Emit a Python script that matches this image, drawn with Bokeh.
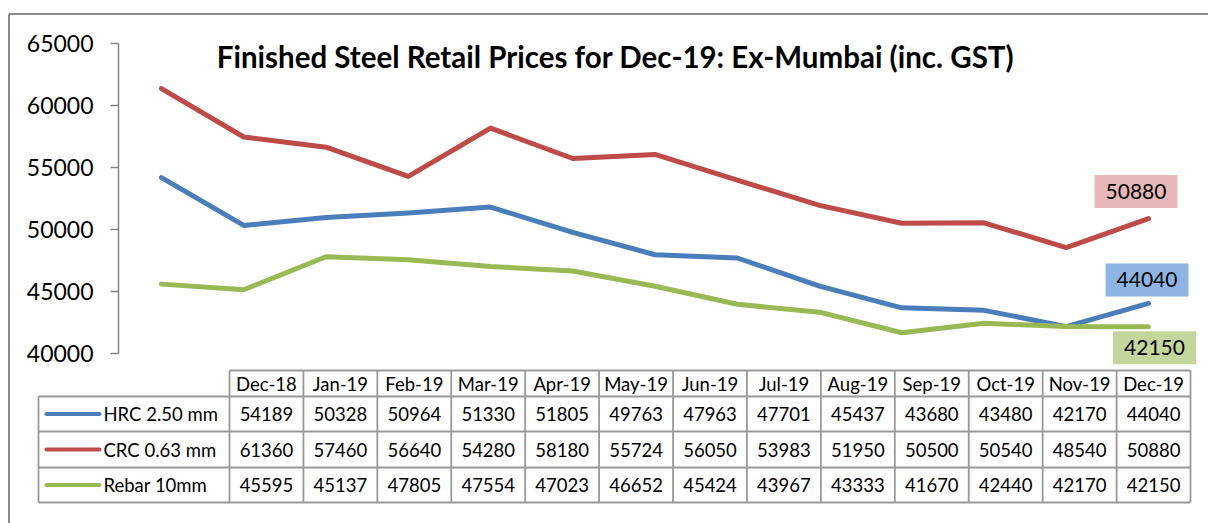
from bokeh.plotting import figure
from bokeh.models import Range1d, LinearAxis, FixedTicker
from bokeh.core.properties import value
from bokeh.embed import file_html
from bokeh.resources import INLINE

# ---------------- data ----------------
months = ["Dec-18", "Jan-19", "Feb-19", "Mar-19", "Apr-19", "May-19", "Jun-19",
          "Jul-19", "Aug-19", "Sep-19", "Oct-19", "Nov-19", "Dec-19"]
hrc = [54189, 50328, 50964, 51330, 51805, 49763, 47963, 47701, 45437, 43680, 43480, 42170, 44040]
crc = [61360, 57460, 56640, 54280, 58180, 55724, 56050, 53983, 51950, 50500, 50540, 48540, 50880]
rebar = [45595, 45137, 47805, 47554, 47023, 46652, 45424, 43967, 43333, 41670, 42440, 42170, 42150]
series_names = ["HRC 2.50 mm", "CRC 0.63 mm", "Rebar 10mm"]
y_ticks = [40000, 45000, 50000, 55000, 60000, 65000]
title = "Finished Steel Retail Prices for Dec-19: Ex-Mumbai (inc. GST)"

# ---------------- styles / layout ----------------
series = [hrc, crc, rebar]
colors = ["#4A7EBB", "#BE4B48", "#98B954"]
label_fills = ["#8EB4E3", "#E6B9B8", "#C3D69B"]
label_offsets = [(-1.5, -23.5), (-12.5, -27), (6, 21)]
FONT = value("Lato")
GRID = "#999999"

W, H = 1208, 523
X0, DX = 161, 82.25            # px of first category, px per category
YB, YT = 353, 43               # px of lowest / highest tick
ppu = (YB - YT) / (y_ticks[-1] - y_ticks[0])

p = figure(width=W, height=H,
           x_range=Range1d(-X0 / DX, (W - X0) / DX),
           y_range=Range1d(y_ticks[0] - (H - YB) / ppu, y_ticks[-1] + YT / ppu),
           output_backend="svg", toolbar_location=None,
           x_axis_location=None, y_axis_location=None,
           min_border=0, outline_line_color=None)
p.grid.visible = False
p.background_fill_color = "white"
p.border_fill_color = "white"
p.extra_x_ranges = {"px": Range1d(0, W)}
p.extra_y_ranges = {"px": Range1d(H, 0)}
PX = dict(x_range_name="px", y_range_name="px")

# outer chart border (top and left)
p.segment(x0=[8.5, 8.5], y0=[13.5, 13.5], x1=[W, 8.5], y1=[13.5, H],
          line_color="#8A8A8A", line_width=2, **PX)

# y axis
ax = LinearAxis(fixed_location=(118 - X0) / DX, bounds=(y_ticks[0], y_ticks[-1]),
                ticker=FixedTicker(ticks=y_ticks, minor_ticks=[]))
ax.axis_line_color = "#868686"
ax.axis_line_width = 1.5
ax.major_tick_line_color = "#868686"
ax.major_tick_line_width = 1.5
ax.major_tick_in = 0
ax.major_tick_out = 8
ax.minor_tick_out = 0
ax.minor_tick_in = 0
ax.major_label_standoff = 17
ax.major_label_text_font = "Lato"
ax.major_label_text_font_size = "23px"
ax.major_label_text_color = "black"
p.add_layout(ax, "left")

# series lines
xs = list(range(len(months)))
for vals, c in zip(series, colors):
    p.line(xs, vals, line_color=c, line_width=5, line_join="round", line_cap="round")

# end data labels
for vals, fill, (dx, dy) in zip(series, label_fills, label_offsets):
    p.text(x=[xs[-1]], y=[vals[-1]], text=[str(vals[-1])], x_offset=dx, y_offset=dy,
           text_align="center", text_baseline="middle", text_font=FONT,
           text_font_size="21px", text_color="black",
           background_fill_color=fill, padding=(11, 9))

# title
p.text(x=[615], y=[56], text=[title], text_align="center", text_baseline="middle",
       text_font=FONT, text_font_style="bold", text_font_size="29.5px",
       text_color="black", **PX)

# ---------------- data table ----------------
TL, TR = 229, 1190        # data columns left / right
LBL = 38                  # label column left
row_edges = [370, 396, 431, 467, 502]
cw = (TR - TL) / len(months)
col_edges = [TL + k * cw for k in range(len(months) + 1)]

hx0, hy0, hx1, hy1 = [], [], [], []
# horizontal lines
hx0.append(TL); hx1.append(TR); hy0.append(row_edges[0]); hy1.append(row_edges[0])
for yy in row_edges[1:]:
    hx0.append(LBL); hx1.append(TR); hy0.append(yy); hy1.append(yy)
# vertical lines
hx0.append(LBL); hx1.append(LBL); hy0.append(row_edges[1]); hy1.append(row_edges[-1])
for xx in col_edges:
    hx0.append(xx); hx1.append(xx); hy0.append(row_edges[0]); hy1.append(row_edges[-1])
p.segment(x0=hx0, y0=hy0, x1=hx1, y1=hy1, line_color=GRID, line_width=1.8, **PX)

centers = [TL + (k + 0.5) * cw for k in range(len(months))]
ymid = [(row_edges[k] + row_edges[k + 1]) / 2 for k in range(len(row_edges) - 1)]
p.text(x=centers, y=[ymid[0]] * len(months), text=months, text_align="center",
       text_baseline="middle", text_font=FONT, text_font_size="18.5px",
       text_color="black", **PX)
for r, (vals, c, name) in enumerate(zip(series, colors, series_names)):
    yy = ymid[r + 1]
    p.text(x=centers, y=[yy] * len(vals), text=[str(v) for v in vals],
           text_align="center", text_baseline="middle", text_font=FONT,
           text_font_size="18.5px", text_color="black", **PX)
    p.segment(x0=[46], y0=[yy], x1=[99], y1=[yy], line_color=c, line_width=4,
              line_cap="round", **PX)
    p.text(x=[103], y=[yy], text=[name], text_align="left", text_baseline="middle",
           text_font=FONT, text_font_size="18.5px", text_color="black", **PX)

open("out.html", "w").write(file_html(p, INLINE))
